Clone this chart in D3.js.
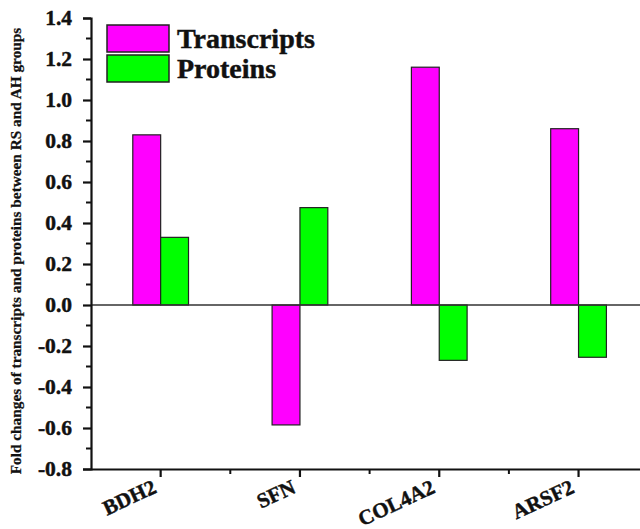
<!DOCTYPE html>
<html>
<head>
<meta charset="utf-8">
<script src="https://cdn.jsdelivr.net/npm/d3@7"></script>
<style>
  html, body { margin: 0; padding: 0; background: #fff; }
  svg { display: block; }
  svg text { font-family: "Liberation Serif", "Times New Roman", serif; font-weight: bold; fill: #111; stroke: #111; stroke-width: 0.45px; }
</style>
</head>
<body>
<svg id="chart" width="640" height="529"></svg>
<script>
// Genes compared between RS and AH groups
const genes = ["BDH2", "SFN", "COL4A2", "ARSF2"];
const seriesNames = ["Transcripts", "Proteins"];
const transcripts = [0.83, -0.585, 1.16, 0.86];
const proteins = [0.33, 0.475, -0.27, -0.255];
const yTicks = [-0.8, -0.6, -0.4, -0.2, 0.0, 0.2, 0.4, 0.6, 0.8, 1.0, 1.2, 1.4];
const colors = ["#ff00ff", "#00ff00"];

const svg = d3.select("#chart");
const plotLeft = 91, plotTop = 18, plotBottom = 469;
const bandW = 139.3;
const plotRight = plotLeft + genes.length * bandW;

const x = d3.scaleBand().domain(genes).range([plotLeft, plotRight]);
const y = d3.scaleLinear().domain([-0.8, 1.4]).range([plotBottom, plotTop]);
const sub = d3.scaleBand().domain(seriesNames)
  .range([-0.2 * bandW, 0.2 * bandW]);

// bars
const rows = genes.map((g, i) => ({ gene: g, values: [transcripts[i], proteins[i]] }));
const groups = svg.append("g").selectAll("g").data(rows).join("g")
  .attr("transform", d => `translate(${x(d.gene) + x.bandwidth() / 2},0)`);
groups.selectAll("rect")
  .data(d => d.values.map((v, k) => ({ v, k })))
  .join("rect")
  .attr("x", d => sub(seriesNames[d.k]))
  .attr("width", sub.bandwidth())
  .attr("y", d => y(Math.max(0, d.v)))
  .attr("height", d => Math.abs(y(d.v) - y(0)))
  .attr("fill", d => colors[d.k])
  .attr("stroke", "#222")
  .attr("stroke-width", 1.2);

// zero reference line
svg.append("line")
  .attr("x1", plotLeft).attr("x2", 640)
  .attr("y1", y(0)).attr("y2", y(0))
  .attr("stroke", "#333").attr("stroke-width", 1.3);

// y axis
const yAxis = d3.axisLeft(y).tickValues(yTicks).tickFormat(d3.format(".1f"))
  .tickSize(8).tickPadding(11);
const yg = svg.append("g").attr("transform", `translate(${plotLeft},0)`).call(yAxis);
yg.select(".domain").attr("stroke", "#111").attr("stroke-width", 2.2);
yg.selectAll(".tick line").attr("stroke", "#111").attr("stroke-width", 2.2);
yg.selectAll(".tick text")
  .attr("font-size", 21.5)
  .text(d => d < 0 ? "-" + Math.abs(d).toFixed(1) : d.toFixed(1));
// minor ticks
const minor = d3.range(-0.7, 1.35, 0.2);
svg.append("g").selectAll("line").data(minor).join("line")
  .attr("x1", plotLeft - 5).attr("x2", plotLeft)
  .attr("y1", d => y(d)).attr("y2", d => y(d))
  .attr("stroke", "#111").attr("stroke-width", 2);

// x axis
const xg = svg.append("g").attr("transform", `translate(0,${plotBottom})`)
  .call(d3.axisBottom(x).tickSize(8).tickPadding(0));
xg.select(".domain").attr("d", `M${plotLeft},0.5H640`).attr("stroke", "#111").attr("stroke-width", 2.2);
xg.selectAll(".tick line").attr("stroke", "#111").attr("stroke-width", 2.2);
xg.selectAll(".tick text")
  .attr("font-size", 21)
  .attr("text-anchor", "end")
  .attr("y", 0).attr("dy", 0)
  .attr("transform", "translate(-3,23) rotate(-25)");
// minor x ticks at band edges
svg.append("g").selectAll("line").data(genes.slice(1)).join("line")
  .attr("x1", d => x(d)).attr("x2", d => x(d))
  .attr("y1", plotBottom).attr("y2", plotBottom + 5)
  .attr("stroke", "#111").attr("stroke-width", 2);

// y axis title
svg.append("text")
  .attr("transform", `translate(21,251) rotate(-90)`)
  .attr("text-anchor", "middle")
  .attr("font-size", 15.3)
  .style("stroke-width", "0.25px")
  .text("Fold changes of transcripts and proteins between RS and AH groups");

// legend
const legend = svg.append("g").selectAll("g").data(seriesNames).join("g")
  .attr("transform", (d, i) => `translate(107,${25 + i * 30})`);
legend.append("rect")
  .attr("width", 62).attr("height", 27)
  .attr("fill", (d, i) => colors[i])
  .attr("stroke", "#222").attr("stroke-width", 1.5);
legend.append("text")
  .attr("x", 70).attr("y", 23)
  .attr("font-size", 28)
  .text(d => d);
</script>
</body>
</html>
